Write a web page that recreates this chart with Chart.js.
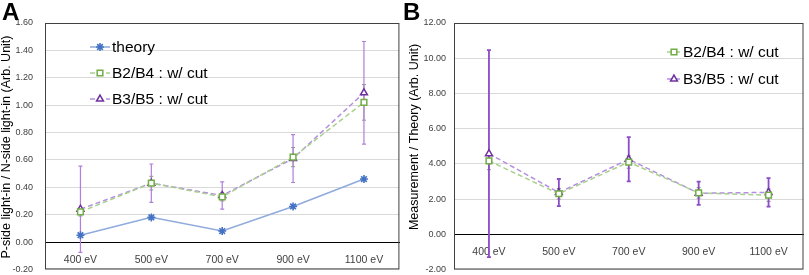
<!DOCTYPE html>
<html lang="en">
<head>
  <meta charset="UTF-8">
  <title>Light-in ratio</title>
  <script src="https://cdn.jsdelivr.net/npm/chart.js"></script>
  <style>
    body {
      margin: 0;
      background: #fff;
      font-family: 'Liberation Sans', sans-serif;
    }
    .wrap {
      position: relative;
      width: 809px;
      height: 275px;
      overflow: hidden;
    }
    canvas { position: absolute; top: 0; }
    #chartA { left: 0; }
    #chartB { left: 405px; }
    .panel {
      position: absolute;
      top: -2px;
      font: bold 24px 'Liberation Sans', sans-serif;
      color: #000;
    }
  </style>
</head>
<body>

<div class="wrap">
  <canvas id="chartA" width="405" height="275"></canvas>
  <canvas id="chartB" width="404" height="275"></canvas>
  <div class="panel" style="left:2px">A</div>
  <div class="panel" style="left:403px">B</div>
</div>

<script>
  const energies = ["400 eV", "500 eV", "700 eV", "900 eV", "1100 eV"];

  // panel A: P-side / N-side light-in
  const theory = [0.05, 0.18, 0.08, 0.26, 0.46];
  const cutB2B4 = [0.22, 0.43, 0.33, 0.62, 1.02];
  const cutB3B5 = [0.24, 0.43, 0.34, 0.61, 1.09];
  const errB2B4 = [0.03, 0.05, 0.03, 0.07, 0.13];
  const errB3B5 = [0.315, 0.14, 0.10, 0.175, 0.375];

  // panel B: measurement / theory
  const ratioB2B4 = [4.17, 2.30, 4.10, 2.35, 2.22];
  const ratioB3B5 = [4.58, 2.37, 4.26, 2.33, 2.38];
  const ratioErrB2B4 = [0.5, 0.3, 0.35, 0.3, 0.35];
  const ratioErrB3B5 = [5.88, 0.77, 1.26, 0.66, 0.81];

  const GREEN = '#70ad47', GREEN_LINE = '#a9d18e';
  const PURPLE = '#7030a0', PURPLE_LINE = '#b48ee0';
  const BLUE = '#4472c4', BLUE_LINE = '#8faadc';
  const FONT = "'Liberation Sans', sans-serif";

  // vertical error bars with little caps, drawn under the markers
  const errorBars = {
    id: 'errorBars',
    beforeDatasetsDraw(chart) {
      const ctx = chart.ctx;
      const y = chart.scales.y;
      chart.data.datasets.forEach((ds, i) => {
        if (!ds.errors) return;
        const meta = chart.getDatasetMeta(i);
        ctx.save();
        ctx.strokeStyle = ds.errorColor;
        ctx.lineWidth = ds.errorWidth || 1;
        meta.data.forEach((pt, j) => {
          const v = ds.data[j], e = ds.errors[j];
          const top = y.getPixelForValue(v + e), bot = y.getPixelForValue(v - e);
          ctx.beginPath();
          ctx.moveTo(pt.x, top); ctx.lineTo(pt.x, bot);
          ctx.moveTo(pt.x - 2, top); ctx.lineTo(pt.x + 2, top);
          ctx.moveTo(pt.x - 2, bot); ctx.lineTo(pt.x + 2, bot);
          ctx.stroke();
        });
        ctx.restore();
      });
    }
  };

  // box around the plot area + rotated y title
  const frame = {
    id: 'frame',
    afterDraw(chart, args, opts) {
      const a = chart.chartArea, ctx = chart.ctx;
      ctx.save();
      ctx.strokeStyle = '#404040';
      ctx.lineWidth = 1;
      ctx.strokeRect(a.left + 0.5, a.top + 0.5, a.right - a.left - 1, a.bottom - a.top - 1);
      ctx.translate(opts.titleX, opts.titleY);
      ctx.rotate(-Math.PI / 2);
      ctx.fillStyle = '#000';
      ctx.font = '12.5px ' + FONT;
      ctx.textAlign = 'center';
      ctx.textBaseline = 'middle';
      ctx.fillText(opts.title, 0, 0);
      ctx.restore();
    }
  };

  // legend floating inside the plot
  const innerLegend = {
    id: 'innerLegend',
    afterDraw(chart, args, opts) {
      const ctx = chart.ctx;
      chart.data.datasets.forEach((ds, i) => {
        const yy = opts.y + i * opts.gap;
        ctx.save();
        ctx.strokeStyle = ds.borderColor;
        ctx.lineWidth = 1.5;
        ctx.setLineDash(ds.borderDash || []);
        ctx.beginPath();
        ctx.moveTo(opts.x, yy); ctx.lineTo(opts.x + opts.len, yy);
        ctx.stroke();
        ctx.setLineDash([]);
        ctx.strokeStyle = ds.pointBorderColor;
        ctx.fillStyle = ds.pointBackgroundColor;
        ctx.lineWidth = ds.pointBorderWidth;
        Chart.helpers.drawPoint(ctx, {
          pointStyle: ds.pointStyle, radius: ds.pointRadius, borderWidth: ds.pointBorderWidth, rotation: 0
        }, opts.x + opts.len / 2, yy);
        ctx.fillStyle = '#000';
        ctx.font = '15.5px ' + FONT;
        ctx.textBaseline = 'middle';
        ctx.fillText(ds.label, opts.x + opts.len + 2, yy + 1);
        ctx.restore();
      });
    }
  };

  function makeSet(label, data, line, marker, style, dash, errors, errColor, errWidth) {
    return {
      label: label, data: data, borderColor: line, borderWidth: 1.5, borderDash: dash,
      pointStyle: style, pointRadius: 4, pointBorderWidth: style === 'star' ? 1.6 : 1.5,
      pointBorderColor: marker, pointBackgroundColor: '#fff',
      errors: errors, errorColor: errColor, errorWidth: errWidth, tension: 0
    };
  }

  function makeChart(id, datasets, yMin, yMax, step, axisW, legend, titleOpts) {
    return new Chart(document.getElementById(id), {
      type: 'line',
      data: { labels: energies, datasets: datasets },
      plugins: [errorBars, frame, innerLegend],
      options: {
        responsive: false,
        animation: false,
        layout: { padding: { top: 23, bottom: 5, right: legend.right, left: 0 } },
        plugins: {
          legend: { display: false },
          tooltip: { enabled: false },
          innerLegend: legend,
          frame: titleOpts
        },
        scales: {
          x: {
            position: { y: 0 },
            offset: true,
            afterFit(scale) { scale.height = 0; },
            grid: { display: false },
            border: { color: '#000', width: 1 },
            ticks: { color: '#404040', font: { family: FONT, size: 10.5 }, padding: 4, maxRotation: 0 }
          },
          y: {
            min: yMin, max: yMax,
            // fixed width, and no extra room above/below for the tick labels
            afterFit(scale) {
              scale.width = axisW;
              scale.paddingTop = 0;
              scale.paddingBottom = 0;
            },
            grid: { color: '#d9d9d9', drawTicks: false },
            border: { display: false },
            ticks: {
              stepSize: step, color: '#404040', padding: legend.tickPad,
              font: { family: FONT, size: 9 },
              callback: v => Number(v).toFixed(2)
            }
          }
        }
      }
    });
  }

  makeChart('chartA', [
    makeSet('theory', theory, BLUE_LINE, BLUE, 'star', [], null),
    makeSet('B2/B4 : w/ cut', cutB2B4, GREEN_LINE, GREEN, 'rect', [5, 3], errB2B4, '#8a9a7a', 1),
    makeSet('B3/B5 : w/ cut', cutB3B5, PURPLE_LINE, PURPLE, 'triangle', [5, 3], errB3B5, '#b07fdc', 1.2)
  ], -0.2, 1.6, 0.2, 45,
    { x: 90, y: 47, gap: 26, len: 20, right: 5, tickPad: 12 },
    { title: 'P-side light-in / N-side light-in (Arb. Unit)', titleX: 7, titleY: 147 });

  makeChart('chartB', [
    makeSet('B2/B4 : w/ cut', ratioB2B4, GREEN_LINE, GREEN, 'rect', [5, 3], ratioErrB2B4, '#8a9a7a', 1),
    makeSet('B3/B5 : w/ cut', ratioB3B5, PURPLE_LINE, PURPLE, 'triangle', [5, 3], ratioErrB3B5, '#8a4cc8', 1.8)
  ], -2, 12, 2, 49,
    { x: 262, y: 52, gap: 27, len: 14, right: 2, tickPad: 8 },
    { title: 'Measurement / Theory (Arb. Unit)', titleX: 10, titleY: 137 });
</script>

</body>
</html>
